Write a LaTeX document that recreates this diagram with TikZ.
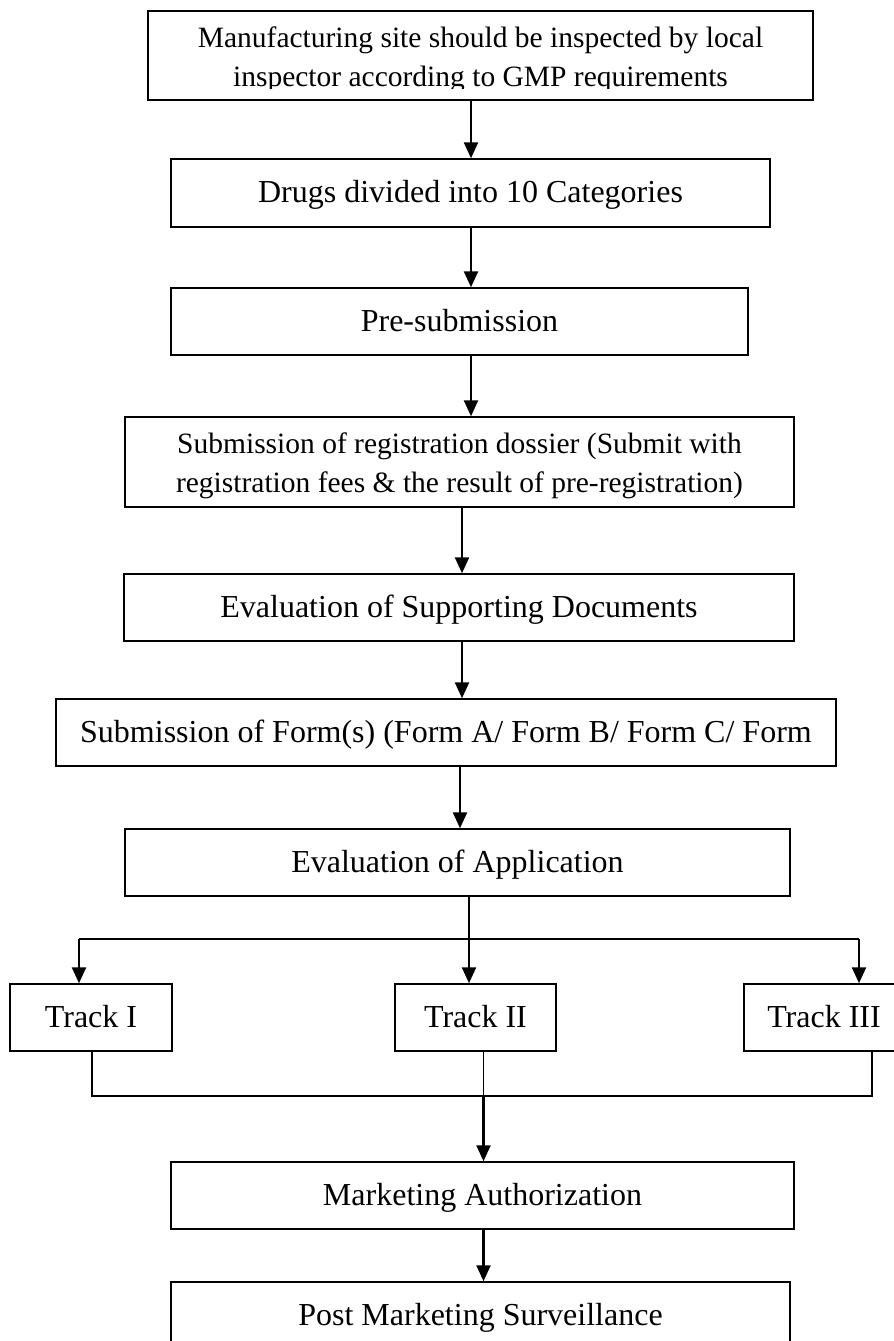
\documentclass[tikz,border=0pt]{standalone}
\usepackage{fontspec}
\setmainfont{Liberation Serif}
\usetikzlibrary{arrows.meta}
\begin{document}
\begin{tikzpicture}[x=1pt,y=-1pt,
  box/.style={draw, rectangle, line width=1.5pt, inner sep=0pt},
  big/.style={font=\fontsize{32}{38}\selectfont, text height=21pt, text depth=2pt},
  small/.style={font=\fontsize{29.5}{39}\selectfont, inner sep=0pt},
  arr/.style={line width=2.4pt, -{Triangle[length=16pt,width=14pt]}},
  thinline/.style={line width=1.2pt}]
\useasboundingbox (0,0) rectangle (894,1341);
\clip (0,0) rectangle (894,1341);

% process boxes
\node[box, minimum width=665pt, minimum height=89pt] (b1) at (480.5,55.5) {};
\node[small, anchor=base] (b1a) at (480.5,47) {Manufacturing site should be inspected by local};
\begin{scope}
  \clip (148,11) rectangle (813,88);
  \node[small, anchor=base] (b1b) at (480.5,86) {inspector according to GMP requirements};
\end{scope}

\node[box, big, minimum width=599pt, minimum height=68pt] (b2) at (470.5,193) {Drugs divided into 10 Categories};
\node[box, big, minimum width=577pt, minimum height=67pt] (b3) at (459.5,321.5) {Pre-submission};

\node[box, minimum width=669pt, minimum height=90pt] (b4) at (459.5,462) {};
\node[small, anchor=base] (b4a) at (459.5,453) {Submission of registration dossier (Submit with};
\node[small, anchor=base] (b4b) at (459.5,492) {registration fees \& the result of pre-registration)};

\node[box, big, minimum width=670pt, minimum height=67pt] (b5) at (459,607.5) {Evaluation of Supporting Documents};
\node[box, big, minimum width=780pt, minimum height=67pt] (b6) at (446,732.5) {Submission of Form(s) (Form A/ Form B/ Form C/ Form};
\node[box, big, minimum width=665pt, minimum height=67pt] (b7) at (457.5,862.5) {Evaluation of Application};

\node[box, big, minimum width=162pt, minimum height=67pt] (t1) at (91,1017.5) {Track I};
\node[box, big, minimum width=161pt, minimum height=67pt] (t2) at (475.5,1017.5) {Track II};
\node[box, big, minimum width=160pt, minimum height=67pt] (t3) at (824,1017.5) {Track III};

\node[box, big, minimum width=623pt, minimum height=67pt] (ma) at (482.5,1195.5) {Marketing Authorization};
\node[box, big, minimum width=619pt, minimum height=67pt] (pms) at (480.5,1315.5) {Post Marketing Surveillance};

% connector columns and rows
\coordinate (xa) at (471,0);
\coordinate (xb) at (462,0);
\coordinate (xc) at (460,0);
\coordinate (xd) at (469,0);
\coordinate (xl) at (79,0);
\coordinate (xr) at (859,0);
\coordinate (xf) at (92,0);
\coordinate (xg) at (872,0);
\coordinate (xe) at (483.5,0);
\coordinate (yj) at (0,939);
\coordinate (yk) at (0,1096);

% main flow
\draw[arr] (b1.south -| xa) -- (b2.north -| xa);
\draw[arr] (b2.south -| xa) -- (b3.north -| xa);
\draw[arr] (b3.south -| xa) -- (b4.north -| xa);
\draw[arr] (b4.south -| xb) -- (b5.north -| xb);
\draw[arr] (b5.south -| xb) -- (b6.north -| xb);
\draw[arr] (b6.south -| xc) -- (b7.north -| xc);

% split into the three tracks
\draw[thinline] (b7.south -| xd) -- (xd |- yj);
\draw[thinline] (xl |- yj) -- (xr |- yj);
\draw[arr] (xl |- yj) -- (t1.north -| xl);
\draw[arr] (xd |- yj) -- (t2.north -| xd);
\draw[arr] (xr |- yj) -- (t3.north -| xr);

% tracks merge again
\draw[thinline] (t1.south -| xf) -- (xf |- yk) -- (xg |- yk) -- (t3.south -| xg);
\draw[thinline] (t2.south -| xe) -- (xe |- yk);
\draw[arr] (xe |- yk) -- (ma.north -| xe);
\draw[arr] (ma.south -| xe) -- (pms.north -| xe);
\end{tikzpicture}
\end{document}
